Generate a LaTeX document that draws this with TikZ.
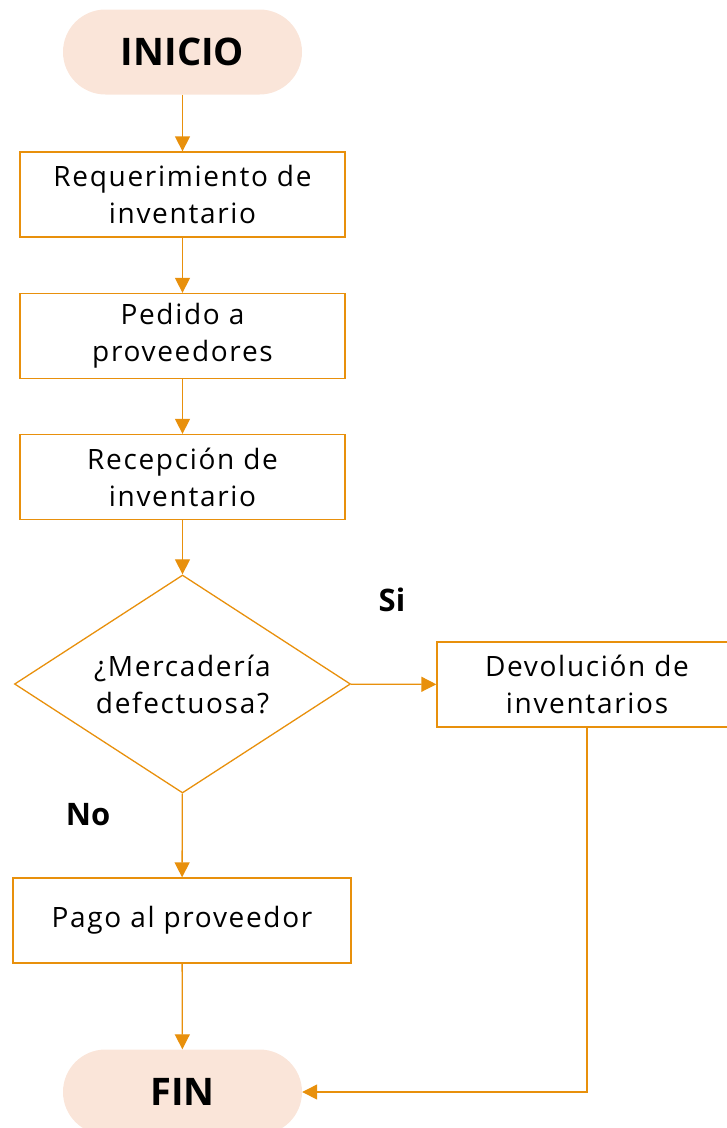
\documentclass[tikz,border=0pt]{standalone}
\usepackage{fontspec}
\setmainfont{Open Sans}
\usetikzlibrary{arrows.meta}
\usetikzlibrary{shapes.geometric}
\definecolor{flujo}{RGB}{232,144,12}
\definecolor{terminal}{RGB}{250,229,217}

\begin{document}
\begin{tikzpicture}[x=1pt, y=-1pt,
        proceso/.style={draw=flujo, line width=1.3pt, minimum height=85pt, inner sep=0pt, align=center, font=\fontsize{28}{37}\selectfont\addfontfeature{LetterSpace=6}},
        extremo/.style={fill=terminal, rounded corners=42.5pt, minimum width=239pt, minimum height=85pt, inner sep=0pt, font=\bfseries\fontsize{38}{42}\selectfont},
        decision/.style={diamond, aspect=1.54, draw=flujo, line width=1.3pt, minimum width=336pt, minimum height=218pt, inner sep=0pt, align=center, font=\fontsize{28}{37}\selectfont\addfontfeature{LetterSpace=6}},
        rama/.style={font=\bfseries\fontsize{31}{35}\selectfont},
        flecha/.style={draw=flujo, line width=1.3pt, -{Triangle[length=15pt, width=15pt]}}]
            \useasboundingbox (0, 0) rectangle (727, 1128);
            \node[extremo] (inicio) at (182.5, 52) {INICIO};
            \node[proceso, minimum width=325pt] (requerimiento) at (182.5, 194.5) {Requerimiento de\\inventario};
            \node[proceso, minimum width=325pt] (pedido) at (182.5, 336) {Pedido a\\proveedores};
            \node[proceso, minimum width=325pt] (recepcion) at (182.5, 477) {Recepción de\\inventario};
            \node[decision] (defectuosa) at (182.5, 684) {¿Mercadería\\defectuosa?};
            \node[proceso, minimum width=300pt] (devolucion) at (587, 684.5) {Devolución de\\inventarios};
            \node[proceso, minimum width=338pt] (pago) at (182, 920.5) {Pago al proveedor};
            \node[extremo] (fin) at (182.5, 1092) {FIN};
            \node[rama] (si) at (392, 600) {Si};
            \node[rama] (no) at (88, 815) {No};
            % flujo principal
            \draw[flecha] (inicio) -- (requerimiento);
            \draw[flecha] (requerimiento) -- (pedido);
            \draw[flecha] (pedido) -- (recepcion);
            \draw[flecha] (recepcion) -- (defectuosa);
            \draw[flecha] (defectuosa) -- (devolucion);
            \draw[flecha] (defectuosa) -- (pago);
            \draw[flecha] (pago) -- (fin);
            \draw[flecha] (devolucion.south) |- (fin.east);
        \end{tikzpicture}
\end{document}
